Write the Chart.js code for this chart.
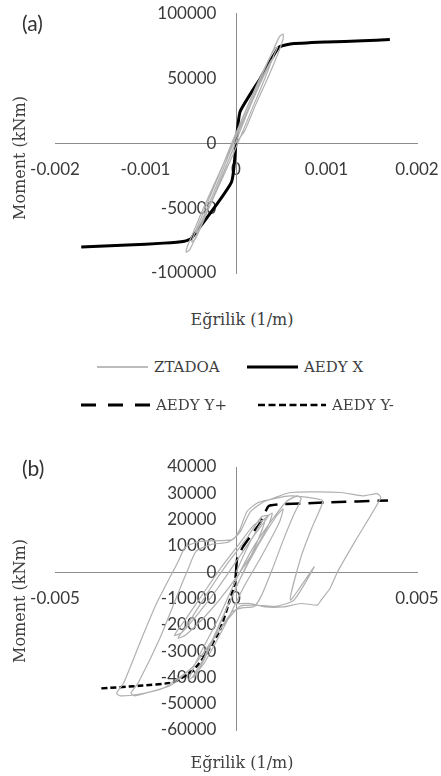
<!DOCTYPE html>
<html>
<head>
<meta charset="utf-8">
<script src="https://cdn.jsdelivr.net/npm/chart.js@4/dist/chart.umd.min.js"></script>
<style>
body { margin: 0; width: 441px; height: 776px; position: relative; background: #fff; overflow: hidden; }
canvas { position: absolute; left: 0; }
#chartA { top: 0; }
#chartB { top: 400px; }
.t { position: absolute; white-space: nowrap; color: #404040; font-family: "DejaVu Serif"; transform: translate(-50%, -50%); }
.ytitle { transform: translate(-50%, -50%) rotate(-90deg); font-size: 16px; }
.xtitle { font-size: 16px; }
.panel { font-family: Lato; font-size: 21px; color: #333; transform: none; }
.leg { position: absolute; display: flex; align-items: center; font-family: "DejaVu Serif"; font-size: 15px; color: #404040; }
.leg svg { margin-right: 6px; }
</style>
</head>
<body>
<canvas id="chartA" width="441" height="300"></canvas>
<canvas id="chartB" width="441" height="376"></canvas>

<div class="t panel" style="left:22px; top:10px;">(a)</div>
<div class="t ytitle" style="left:19px; top:158px;">Moment (kNm)</div>
<div class="t xtitle" style="left:242px; top:319px;">Eğrilik (1/m)</div>

<div class="leg" style="left:97px; top:357px;"><svg width="51" height="20"><line x1="0" y1="10" x2="51" y2="10" stroke="#a6a6a6" stroke-width="1.5"/></svg>ZTADOA</div>
<div class="leg" style="left:247px; top:357px;"><svg width="51" height="20"><line x1="0" y1="10" x2="51" y2="10" stroke="#000" stroke-width="3"/></svg>AEDY X</div>
<div class="leg" style="left:81px; top:395px;"><svg width="69" height="20"><line x1="0" y1="10" x2="69" y2="10" stroke="#000" stroke-width="3" stroke-dasharray="15 12"/></svg>AEDY Y+</div>
<div class="leg" style="left:258px; top:395px;"><svg width="68" height="20"><line x1="0" y1="10" x2="68" y2="10" stroke="#000" stroke-width="2.5" stroke-dasharray="7 3.5"/></svg>AEDY Y-</div>

<div class="t panel" style="left:22px; top:455px;">(b)</div>
<div class="t ytitle" style="left:19px; top:601px;">Moment (kNm)</div>
<div class="t xtitle" style="left:242px; top:762px;">Eğrilik (1/m)</div>

<script>
// (a) tick labels
var xTicksA = [-0.002, -0.001, 0, 0.001, 0.002];
var yTicksA = [-100000, -50000, 0, 50000, 100000];

// (a) ZTADOA hysteresis (curvature 1/m, moment kNm)
var ztaCurvA = [0, 0.0001, 0.00022, 0.00035, 0.00047, 0.00052, 0.00052, 0.00048, 0.0004, 0.00027, 0.00014, 0.00002, -0.0001, -0.00023, -0.00036, -0.00048, -0.00054, -0.00055, -0.00051, -0.00043, -0.0003, -0.00017, -0.00004, 0.00008, 0.0002, 0.00032, 0.00042, 0.00046,
  0.00043, 0.00036, 0.00023, 0.0001, -0.00003, -0.00015, -0.00028, -0.0004, -0.00047, -0.00049, -0.00045, -0.00036, -0.00024, -0.00011, 0.00001, 0.00013, 0.00027, 0.00038, 0.00042,
  0.00039, 0.0003, 0.00017, 0.00004, -0.00008, -0.0002, -0.00033, -0.00042, -0.00044, -0.0004, -0.0003, -0.00016, -0.00002];
var ztaMomA = [0, 10000, 30000, 50000, 70000, 80000, 84000, 82000, 70000, 50000, 30000, 10000, -10000, -30000, -50000, -70000, -80000, -84000, -82000, -70000, -50000, -30000, -10000, 10000, 30000, 50000, 68000, 74000,
  73000, 64000, 45000, 24000, 3000, -18000, -40000, -60000, -72000, -76000, -74000, -60000, -40000, -18000, 3000, 24000, 46000, 62000, 66000,
  64000, 52000, 32000, 11000, -9000, -30000, -52000, -66000, -69000, -66000, -50000, -26000, -3000];

// (a) AEDY X
var aedyXCurv = [-0.00171, -0.0012, -0.0008, -0.00057, -0.000495, -0.00005, 0, 0.000045, 0.00027, 0.000473, 0.0006, 0.001, 0.0014, 0.0017];
var aedyXMom = [-79900, -78500, -77000, -75500, -73400, -30000, 0, 24200, 50000, 73700, 76300, 77800, 78800, 79700];

// (b) tick labels
var xTicksB = [-0.005, 0, 0.005];
var yTicksB = [-60000, -50000, -40000, -30000, -20000, -10000, 0, 10000, 20000, 30000, 40000];

// (b) ZTADOA hysteresis
var ztaCurvB = [0, 0.0003, 0.0007, 0.001, 0.0009, 0.0004, -0.0002, -0.0008, -0.0014, -0.0016, -0.0013, -0.0007, -0.0002, 0.0003, 0.0007, 0.0009,
  0.0005, 0, -0.0005, -0.001, -0.0015, -0.0017, -0.0014, -0.0009, -0.0004, 0.0001, 0.0005, 0.0008,
  0.0006, 0.0002, -0.0002, -0.0007, -0.0011, -0.0012, -0.0009, -0.0004, 0.0001, 0.0006, 0.0011, 0.0013, 0.0012, 0.0007, 0.0002, -0.0003, -0.0009, -0.0013, -0.0011, -0.0005, 0, 0.0005, 0.001,
  0.0014, 0.0017, 0.0018, 0.0016, 0.0013, 0.001, 0.0007, 0.0005, 0.0002, -0.0001, -0.0006, -0.0012, -0.0018, -0.0025, -0.0028, -0.0029, -0.0027, -0.0021, -0.0016, -0.0013, -0.0011, -0.0007, -0.0002, 0.0001, 0.0004, 0.0008, 0.0015, 0.0022, 0.0024, 0.0021, 0.0018, 0.0015, 0.00216, 0.0016, 0.0011, 0.0005, 0.0001,
  -0.0004, -0.0012, -0.002, -0.0027, -0.0032, -0.0033, -0.0031, -0.0026, -0.0022, -0.0016, -0.0014, -0.001, -0.0001, 0.0001, 0.0003, 0.0006, 0.00095, 0.0015, 0.0029, 0.0035, 0.0039, 0.004, 0.0033, 0.0028, 0.0026, 0.00235, 0.00225, 0.0018, 0.0013, 0.0008, 0.0004, 0];
var ztaMomB = [0, 9000, 19000, 22500, 18000, 6000, -6000, -16000, -24000, -25000, -19000, -6000, 4000, 13000, 21000, 21500,
  14000, 4000, -6000, -15000, -23000, -24000, -18000, -8000, 2000, 11000, 18000, 20000,
  12000, 0, -12000, -28000, -39000, -40000, -33000, -18000, -3000, 10000, 21000, 24000, 19000, 6000, -6000, -20000, -35000, -41000, -34000, -18000, -3000, 10000, 20000,
  27000, 29000, 28000, 22000, 12000, 1000, -9000, -13000, -13500, -15000, -25000, -36000, -43000, -46000, -47000, -46000, -42000, -25000, -8000, 2000, 8000, 10500, 11500, 15000, 23000, 27000, 29000, 28000, 27000, 17000, 6000, -10600, 2100, -10600, -13000, -12500, -13000,
  -21000, -36000, -44000, -46400, -47000, -46000, -42000, -25000, -12000, 4000, 9500, 11700, 12400, 16000, 23000, 26400, 27700, 30300, 30300, 29000, 29900, 28300, 12000, 0, -6100, -10600, -12500, -11900, -13200, -13200, -11900, -12000];

// (b) AEDY Y+ and AEDY Y-
var aedyYpCurv = [0, 0.00003, 0.0002, 0.00067, 0.0009, 0.00123, 0.0025, 0.0042];
var aedyYpMom = [0, 5000, 9800, 18800, 25100, 25800, 26500, 27300];
var aedyYmCurv = [0, -0.00003, -0.00017, -0.00045, -0.00082, -0.00119, -0.00175, -0.00268, -0.00375];
var aedyYmMom = [0, -4200, -10600, -22100, -31000, -37400, -41900, -43200, -44200];

function pts(xs, ys) {
    return xs.map(function (v, i) { return { x: v, y: ys[i] }; });
}

var tickFont = { family: "Lato", size: 17 };
var tickColor = "#3a3a3a";
var axisColor = "#8c8c8c";

function axes(xMin, xMax, xTicks, yMin, yMax, yTicks) {
    return {
        x: {
            type: "linear", axis: "x", position: { y: 0 }, min: xMin, max: xMax,
            afterBuildTicks: function (s) { s.ticks = xTicks.map(function (v) { return { value: v }; }); },
            afterFit: function (s) { s.height = 0; },
            ticks: { padding: 0, font: tickFont, color: tickColor, maxRotation: 0, autoSkip: false,
                callback: function (value) { return String(value); } },
            // ticks hidden, tickLength only pushes the labels below the axis
            grid: { display: false, drawTicks: true, tickLength: 16 },
            border: { color: axisColor, width: 1 }
        },
        y: {
            type: "linear", axis: "y", position: { x: 0 }, min: yMin, max: yMax,
            afterBuildTicks: function (s) { s.ticks = yTicks.map(function (v) { return { value: v }; }); },
            afterFit: function (s) { s.width = 0; },
            ticks: { font: tickFont, color: tickColor, autoSkip: false,
                callback: function (value) { return String(value) + "    \u2009"; } },
            grid: { display: false, drawTicks: false },
            border: { color: axisColor, width: 1 }
        }
    };
}

function graph(id, datasets, scales, padding) {
    var ctx = document.getElementById(id).getContext("2d");
    new Chart(ctx, {
        type: "scatter",
        data: { datasets: datasets },
        options: {
            responsive: false,
            animation: false,
            devicePixelRatio: 1,
            layout: { padding: padding },
            plugins: { legend: { display: false }, tooltip: { enabled: false } },
            scales: scales
        }
    });
}

graph("chartA", [
    { label: "ZTADOA", data: pts(ztaCurvA, ztaMomA), showLine: true, pointRadius: 0, borderColor: "#b0b0b0", borderWidth: 1.2, tension: 0.2 },
    { label: "AEDY X", data: pts(aedyXCurv, aedyXMom), showLine: true, pointRadius: 0, borderColor: "#000", borderWidth: 3, tension: 0.15 }
], axes(-0.002, 0.002, xTicksA, -100000, 100000, yTicksA), { left: 55, right: 24, top: 13, bottom: 27 });

graph("chartB", [
    { label: "ZTADOA", data: pts(ztaCurvB, ztaMomB), showLine: true, pointRadius: 0, borderColor: "#b0b0b0", borderWidth: 1.2, tension: 0.2 },
    { label: "AEDY Y+", data: pts(aedyYpCurv, aedyYpMom), showLine: true, pointRadius: 0, borderColor: "#000", borderWidth: 2.5, borderDash: [15, 8], tension: 0.15 },
    { label: "AEDY Y-", data: pts(aedyYmCurv, aedyYmMom), showLine: true, pointRadius: 0, borderColor: "#000", borderWidth: 2.5, borderDash: [6, 3], tension: 0.15 }
], axes(-0.005, 0.005, xTicksB, -60000, 40000, yTicksB), { left: 55, right: 24, top: 67, bottom: 46 });
</script>
</body>
</html>
